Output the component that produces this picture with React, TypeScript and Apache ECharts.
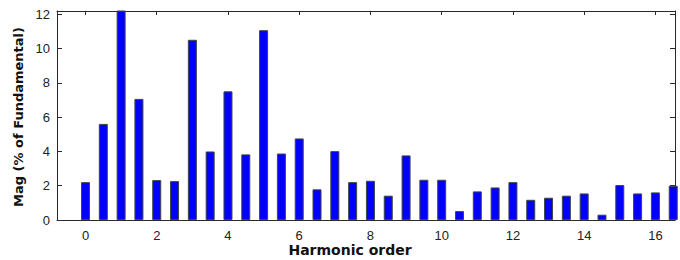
import React, { useEffect, useRef } from "react";
import * as echarts from "echarts";

const harmonicOrder = [0, 0.5, 1, 1.5, 2, 2.5, 3, 3.5, 4, 4.5, 5, 5.5, 6, 6.5, 7, 7.5, 8, 8.5, 9, 9.5, 10, 10.5, 11, 11.5, 12, 12.5, 13, 13.5, 14, 14.5, 15, 15.5, 16, 16.5];
const magnitude = [2.21, 5.61, 12.5, 7.07, 2.33, 2.27, 10.52, 4.0, 7.51, 3.83, 11.08, 3.88, 4.76, 1.79, 4.02, 2.21, 2.29, 1.42, 3.77, 2.35, 2.35, 0.52, 1.67, 1.9, 2.21, 1.18, 1.3, 1.42, 1.55, 0.31, 2.04, 1.55, 1.61, 2.0];
const xTicks = [0, 2, 4, 6, 8, 10, 12, 14, 16];
const yTicks = [0, 2, 4, 6, 8, 10, 12];

export default function App() {
  const ref = useRef<HTMLDivElement>(null);
  useEffect(() => {
    if (!ref.current) return;
    const chart = echarts.init(ref.current, undefined, { renderer: "svg" });
    const axisLine = { show: true, onZero: false, lineStyle: { color: "#2a2a2a", width: 1 } };
    const xTickStyle = { show: true, inside: true, length: 4, customValues: xTicks, lineStyle: { color: "#2a2a2a" } };
    const yTickStyle = { show: true, inside: true, length: 5, customValues: yTicks, lineStyle: { color: "#2a2a2a" } };
    chart.setOption({
      animation: false,
      backgroundColor: "#ffffff",
      grid: { left: 57, right: 5, top: 11, bottom: 40 },
      xAxis: [
        {
          type: "value",
          min: -0.8,
          max: 16.55,
          axisLine,
          axisTick: xTickStyle,
          splitLine: { show: false },
          axisLabel: {
            color: "#222",
            fontFamily: "Liberation Sans",
            fontSize: 13,
            margin: 9,
            customValues: xTicks,
          },
        },
        {
          type: "value",
          position: "top",
          min: -0.8,
          max: 16.55,
          axisLine,
          axisTick: xTickStyle,
          axisLabel: { show: false },
          splitLine: { show: false },
        },
      ],
      yAxis: [
        {
          type: "value",
          min: 0,
          max: 12.2,
          axisLine,
          axisTick: yTickStyle,
          splitLine: { show: false },
          axisLabel: {
            color: "#222",
            fontFamily: "Liberation Sans",
            fontSize: 13,
            margin: 7,
            customValues: yTicks,
          },
        },
        {
          type: "value",
          position: "right",
          min: 0,
          max: 12.2,
          axisLine,
          axisTick: yTickStyle,
          axisLabel: { show: false },
          splitLine: { show: false },
        },
      ],
      series: [
        {
          type: "bar",
          xAxisIndex: 0,
          yAxisIndex: 0,
          barWidth: 9,
          clip: true,
          data: harmonicOrder.map((h, i) => [h, magnitude[i]]),
          itemStyle: { color: "#0000ff", borderColor: "#444", borderWidth: 1 },
        },
      ],
      graphic: [
        {
          type: "text",
          x: 350,
          y: 250,
          style: {
            text: "Harmonic order",
            fontFamily: "DejaVu Sans",
            fontWeight: "bold",
            fontSize: 14,
            fill: "#111",
            align: "center",
            verticalAlign: "middle",
          },
        },
        {
          type: "text",
          x: 18,
          y: 117,
          rotation: Math.PI / 2,
          style: {
            text: "Mag (% of Fundamental)",
            fontFamily: "DejaVu Sans",
            fontWeight: "bold",
            fontSize: 13,
            fill: "#111",
            align: "center",
            verticalAlign: "middle",
          },
        },
      ],
    });
    return () => chart.dispose();
  }, []);
  return <div ref={ref} style={{ width: 680, height: 260, position: "absolute", left: 0, top: 0 }} />;
}
